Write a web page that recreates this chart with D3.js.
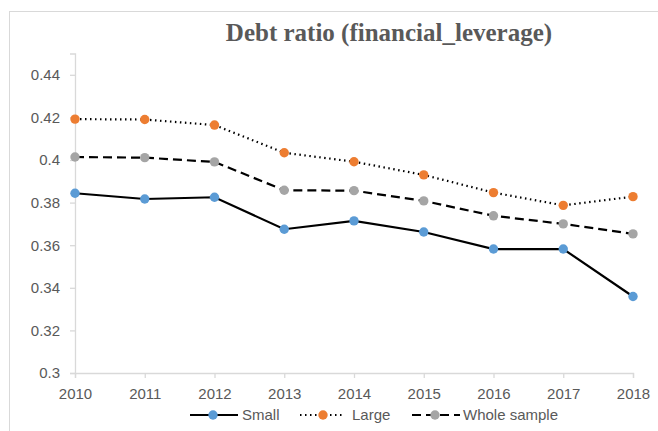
<!DOCTYPE html>
<html><head><meta charset="utf-8">
<script src="https://cdn.jsdelivr.net/npm/d3@7"></script>
<style>body{margin:0;background:#fff}</style>
</head><body>
<svg id="c" width="658" height="431"></svg>
<script>
const years = ["2010","2011","2012","2013","2014","2015","2016","2017","2018"];
const small = [0.3844,0.3817,0.3825,0.3675,0.3714,0.3662,0.3582,0.3582,0.3359];
const large = [0.4192,0.4190,0.4164,0.4034,0.3992,0.3930,0.3847,0.3787,0.3828];
const whole = [0.4014,0.4011,0.3991,0.3858,0.3856,0.3808,0.3738,0.3700,0.3653];
const yTicks = [0.3,0.32,0.34,0.36,0.38,0.4,0.42,0.44];
const yTickLabels = ["0.3","0.32","0.34","0.36","0.38","0.4","0.42","0.44"];
const seriesNames = ["Small","Large","Whole sample"];
const title = "Debt ratio (financial_leverage)";

const svg = d3.select("#c");
svg.append("rect").attr("x",9.5).attr("y",11.5).attr("width",660).attr("height",440)
  .attr("fill","#fff").attr("stroke","#d9d9d9").attr("stroke-width",1);

const x = d3.scalePoint().domain(years).range([75,633]);
const y = d3.scaleLinear().domain([0.3,0.45]).range([373,53.5]);

const grey = "#595959";
const font = "'Liberation Sans', Arial, sans-serif";
// y axis
const ya = svg.append("g").attr("transform","translate(75,0)")
  .call(d3.axisLeft(y).tickValues(yTicks).tickFormat((d,i)=>yTickLabels[i]).tickSizeOuter(0).tickSize(5).tickPadding(10));
ya.select(".domain").attr("stroke","#d9d9d9").attr("stroke-width",1.3);
ya.selectAll(".tick line").attr("stroke","#d9d9d9").attr("stroke-width",1.3);
ya.selectAll(".tick text").attr("fill",grey).attr("font-family",font).attr("font-size",15);
// x axis
const xa = svg.append("g").attr("transform","translate(0,373)")
  .call(d3.axisBottom(x).tickSizeOuter(0).tickSize(5).tickPadding(10));
xa.select(".domain").attr("stroke","#d9d9d9").attr("stroke-width",1.3);
xa.selectAll(".tick line").attr("stroke","#d9d9d9").attr("stroke-width",1.3);
xa.selectAll(".tick text").attr("fill",grey).attr("font-family",font).attr("font-size",15);

const series = [
  {name:seriesNames[0], vals:small, color:"#5b9bd5", dash:null},
  {name:seriesNames[1], vals:large, color:"#ed7d31", dash:"1.5 3.5"},
  {name:seriesNames[2], vals:whole, color:"#a5a5a5", dash:"9 5"}
];
const line = d3.line().x((d,i)=>x(years[i])).y(d=>y(d));
series.forEach((s,k)=>{
  svg.append("path").attr("d",line(s.vals)).attr("fill","none").attr("stroke","#000")
    .attr("stroke-width",2.2).attr("stroke-dasharray",s.dash).attr("stroke-linecap","butt");
  svg.selectAll(null).data(s.vals).enter().append("circle")
    .attr("cx",(d,i)=>x(years[i])).attr("cy",d=>y(d)).attr("r",4.7).attr("fill",s.color);
});

svg.append("text").attr("x",389).attr("y",41).attr("text-anchor","middle")
  .attr("font-family","'Liberation Serif','Times New Roman',serif").attr("font-weight","bold")
  .attr("font-size",25).attr("fill",grey).text(title);

// legend
const leg = [
  {x1:190,x2:238,mx:213,tx:242},
  {x1:300,x2:344,mx:323,tx:352},
  {x1:412,x2:460,mx:435,tx:463}
];
series.forEach((s,i)=>{
  const l = leg[i], ly = 415;
  svg.append("line").attr("x1",l.x1).attr("x2",l.x2).attr("y1",ly).attr("y2",ly)
    .attr("stroke","#000").attr("stroke-width",2.2).attr("stroke-dasharray",s.dash);
  svg.append("circle").attr("cx",l.mx).attr("cy",ly).attr("r",4.7).attr("fill",s.color);
  svg.append("text").attr("x",l.tx).attr("y",420).attr("fill",grey)
    .attr("font-family",font).attr("font-size",15).text(s.name);
});
</script>
</body></html>
